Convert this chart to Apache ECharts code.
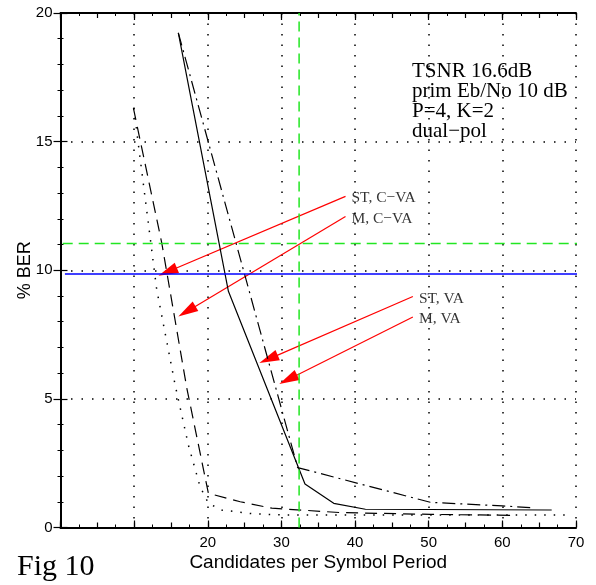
<!DOCTYPE html>
<html><head><meta charset="utf-8">
<script src="https://cdn.jsdelivr.net/npm/echarts@6/dist/echarts.min.js"></script>
<style>html,body{margin:0;padding:0;background:#fff}#c{width:596px;height:585px}</style>
</head><body><div id="c"></div>
<script>
// ---- data ----
const stVA  = [[16.0,19.23],[22.8,9.18],[33.2,1.69],[37.1,0.94],[41.4,0.71],[66.7,0.68]];          // solid
const mVA   = [[16.0,19.23],[32.2,2.33],[50.2,0.98],[60.0,0.84],[63.8,0.77]];                      // dash-dot
const stCVA = [[9.95,16.3],[13.07,9.24],[15.56,5.55],[17.36,3.21],[18.95,1.59],[20.08,0.94],[21.9,0.68],[26.2,0.53],[30.3,0.49],[69.5,0.49]]; // dotted
const mCVA  = [[9.9,16.3],[13.75,11.06],[17.15,5.42],[20.08,1.33],[24.4,1.0],[28.7,0.75],[38.0,0.58],[50.2,0.51],[62.0,0.47]]; // dashed
const blueLine   = [[0.6,9.85],[70.85,9.85]];
const greenHLine = [[0.3,11.04],[70.8,11.04]];
const greenVLine = [[32.4,0],[32.4,20]];
const arrowNames = ['ST, C\u2212VA','M, C\u2212VA','ST, VA','M, VA'];
const arrowFrom  = [[38.7,12.87],[38.7,12.09],[47.85,8.98],[47.85,8.18]];
const arrowTo    = [[13.3,9.79],[16.0,8.2],[27.0,6.39],[29.7,5.58]];
const xTickHidden = [0,10];
const infoLines = ['TSNR 16.6dB','prim Eb/No 10 dB','P=4, K=2','dual\u2212pol'];

const chart = echarts.init(document.getElementById('c'), null, {renderer:'canvas'});
const black = '#000';
const sans = '"Liberation Sans", Arial, sans-serif';
const serif = '"Liberation Serif", "Times New Roman", serif';
const HEAD_W = 11, HEAD_L = 20;

function xAx(pos, main, interval){
  return {
    type:'value', min:0, max:70, interval: interval, position: pos, gridIndex:0,
    axisLine:{show: main, lineStyle:{color:black, width:2}},
    axisTick:{show:true, inside:true, length: main?7:5, lineStyle:{color:black,width:1.2}},
    minorTick:{show: main, splitNumber:4, length:3, lineStyle:{color:black,width:1}},
    splitLine:{show: main && pos==='bottom', lineStyle:{color:black, width:1.5, type:[1.5,9]}},
    axisLabel:{show: main && pos==='bottom', color:black, fontFamily:sans, fontSize:15, margin:8,
      formatter: v => xTickHidden.indexOf(v) >= 0 ? '' : String(v)},
    name: (main && pos==='bottom') ? 'Candidates per Symbol Period' : '',
    nameLocation:'middle', nameGap:26, nameMoveOverlap:false,
    nameTextStyle:{color:black, fontFamily:sans, fontSize:19}
  };
}
function yAx(pos, main){
  return {
    type:'value', min:0, max:20, interval:5, position: pos, gridIndex:0,
    axisLine:{show:true, lineStyle:{color:black, width:2}},
    axisTick:{show:true, inside:true, length:7, lineStyle:{color:black,width:1.2}},
    minorTick:{show:true, splitNumber:5, length:3, lineStyle:{color:black,width:1}},
    splitLine:{show: main, lineStyle:{color:black, width:1.5, type:[1.5,9]}},
    axisLabel:{show: main, color:black, fontFamily:sans, fontSize:15, margin:8},
    name: main ? '% BER' : '', nameLocation:'middle', nameGap:26, nameRotate:90, nameMoveOverlap:false,
    nameTextStyle:{color:black, fontFamily:sans, fontSize:18}
  };
}

function lineSeries(data, style, extra){
  return Object.assign({type:'line', data:data, symbol:'none', showSymbol:false, silent:true,
    xAxisIndex:0, yAxisIndex:0, lineStyle:style, animation:false}, extra||{});
}

function arrowData(){
  // the triangle symbol is centred on the line end, so pull the end back by half its length
  return arrowFrom.map((f,i)=>{
    const t = arrowTo[i];
    const pf = chart.convertToPixel({gridIndex:0}, f);
    const pt = chart.convertToPixel({gridIndex:0}, t);
    if (!pf || !pt) return {coords:[f,t]};
    const dx = pt[0]-pf[0], dy = pt[1]-pf[1], len = Math.hypot(dx,dy);
    const e = [pt[0]-dx/len*HEAD_L/2, pt[1]-dy/len*HEAD_L/2];
    return {coords:[f, chart.convertFromPixel({gridIndex:0}, e)]};
  });
}

const option = {
  animation:false,
  backgroundColor:'#fff',
  grid:{left:60.5, right:20, top:13, bottom:57.5, containLabel:false},
  xAxis:[xAx('bottom',true,10), xAx('bottom',false,5), xAx('top',true,10), xAx('top',false,5)],
  yAxis:[yAx('left',true), yAx('right',false)],
  series:[
    lineSeries(stVA,  {color:black, width:1.2, type:'solid'}),
    lineSeries(mVA,   {color:black, width:1.2, type:[13,5,2,5]}),
    lineSeries(stCVA, {color:black, width:1.5, type:[1.5,8]}),
    lineSeries(mCVA,  {color:black, width:1.2, type:[12,7]}),
    lineSeries(blueLine,   {color:'#0000ff', width:1.5}, {clip:false}),
    lineSeries(greenHLine, {color:'#22e622', width:1.5, type:[10,6]}, {clip:false}),
    lineSeries(greenVLine, {color:'#22e622', width:1.5, type:[10,6]}, {clip:false}),
    {
      id:'arrows', type:'lines', coordinateSystem:'cartesian2d', xAxisIndex:0, yAxisIndex:0, silent:true,
      data: arrowFrom.map((f,i)=>({coords:[f, arrowTo[i]]})),
      lineStyle:{color:'#ff0000', width:1.2, opacity:1, curveness:0},
      symbol:['none','triangle'], symbolSize:[[HEAD_W,HEAD_L],[HEAD_W,HEAD_L]],
      animation:false
    },
    {
      type:'scatter', xAxisIndex:0, yAxisIndex:0, silent:true, symbolSize:0,
      data: arrowFrom.map((f,i)=>({value:f, name:arrowNames[i]})),
      label:{show:true, position:'right', distance:6, formatter: p => p.name,
        color:black, fontFamily:serif, fontSize:15.5, offset:[0,2]},
      animation:false
    }
  ],
  graphic:[
    {type:'text', left:412, top:61, style:{text: infoLines.join('\n'), font:'21px ' + serif, fill:black, lineHeight:20}},
    {type:'text', left:17, top:552, style:{text:'Fig 10', font:'30px ' + serif, fill:black}}
  ]
};
chart.setOption(option);
chart.setOption({series:[{id:'arrows', data: arrowData()}]});
</script>
</body></html>
